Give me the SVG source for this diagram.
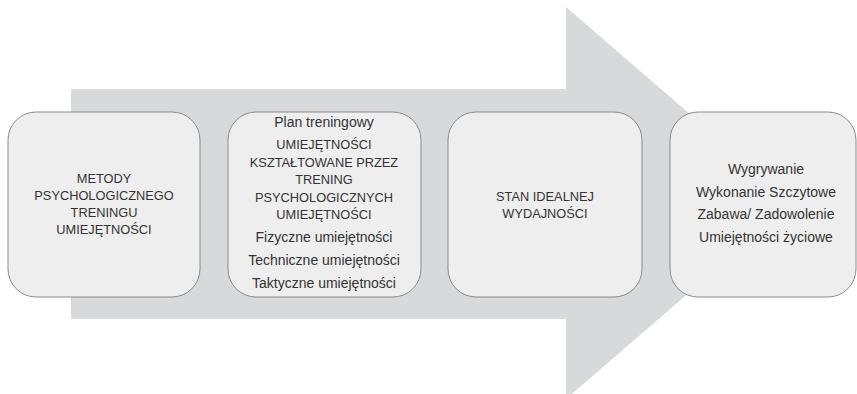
<svg xmlns="http://www.w3.org/2000/svg" width="857" height="394" viewBox="0 0 857 394">
<style>
.box{fill:#eeeeee;stroke:#8a8a8a;stroke-width:1}
.t{font-family:"Liberation Sans",Arial,sans-serif;font-size:14px;fill:#333333;text-anchor:middle}
.c{font-size:12.8px}
</style>
<rect width="857" height="394" fill="#ffffff"/>
<g id="arrow">
<polygon points="71,89 566,89 566,7 793,203 566,399 566,319 71,319" fill="#d8d9db"/>
</g>
<g id="connectors"></g>
<g id="node1">
<rect class="box" x="8" y="112" width="192" height="185" rx="28" ry="28"/>
<text class="t c" x="104" y="183">METODY</text>
<text class="t c" x="104" y="200">PSYCHOLOGICZNEGO</text>
<text class="t c" x="104" y="217">TRENINGU</text>
<text class="t c" x="104" y="234">UMIEJĘTNOŚCI</text>
</g>
<g id="node2">
<rect class="box" x="228" y="112" width="193" height="185" rx="28" ry="28"/>
<text class="t" x="324" y="127">Plan treningowy</text>
<text class="t c" x="324" y="149">UMIEJĘTNOŚCI</text>
<text class="t c" x="324" y="167">KSZTAŁTOWANE PRZEZ</text>
<text class="t c" x="324" y="184">TRENING</text>
<text class="t c" x="324" y="202">PSYCHOLOGICZNYCH</text>
<text class="t c" x="324" y="219">UMIEJĘTNOŚCI</text>
<text class="t" x="324" y="242">Fizyczne umiejętności</text>
<text class="t" x="324" y="265">Techniczne umiejętności</text>
<text class="t" x="324" y="288">Taktyczne umiejętności</text>
</g>
<g id="node3">
<rect class="box" x="448" y="112" width="194" height="185" rx="28" ry="28"/>
<text class="t c" x="545" y="201">STAN IDEALNEJ</text>
<text class="t c" x="545" y="218">WYDAJNOŚCI</text>
</g>
<g id="node4">
<rect class="box" x="670" y="112" width="186" height="185" rx="28" ry="28"/>
<text class="t" x="766" y="174">Wygrywanie</text>
<text class="t" x="766" y="197">Wykonanie Szczytowe</text>
<text class="t" x="766" y="219">Zabawa/ Zadowolenie</text>
<text class="t" x="766" y="242">Umiejętności życiowe</text>
</g>
</svg>
